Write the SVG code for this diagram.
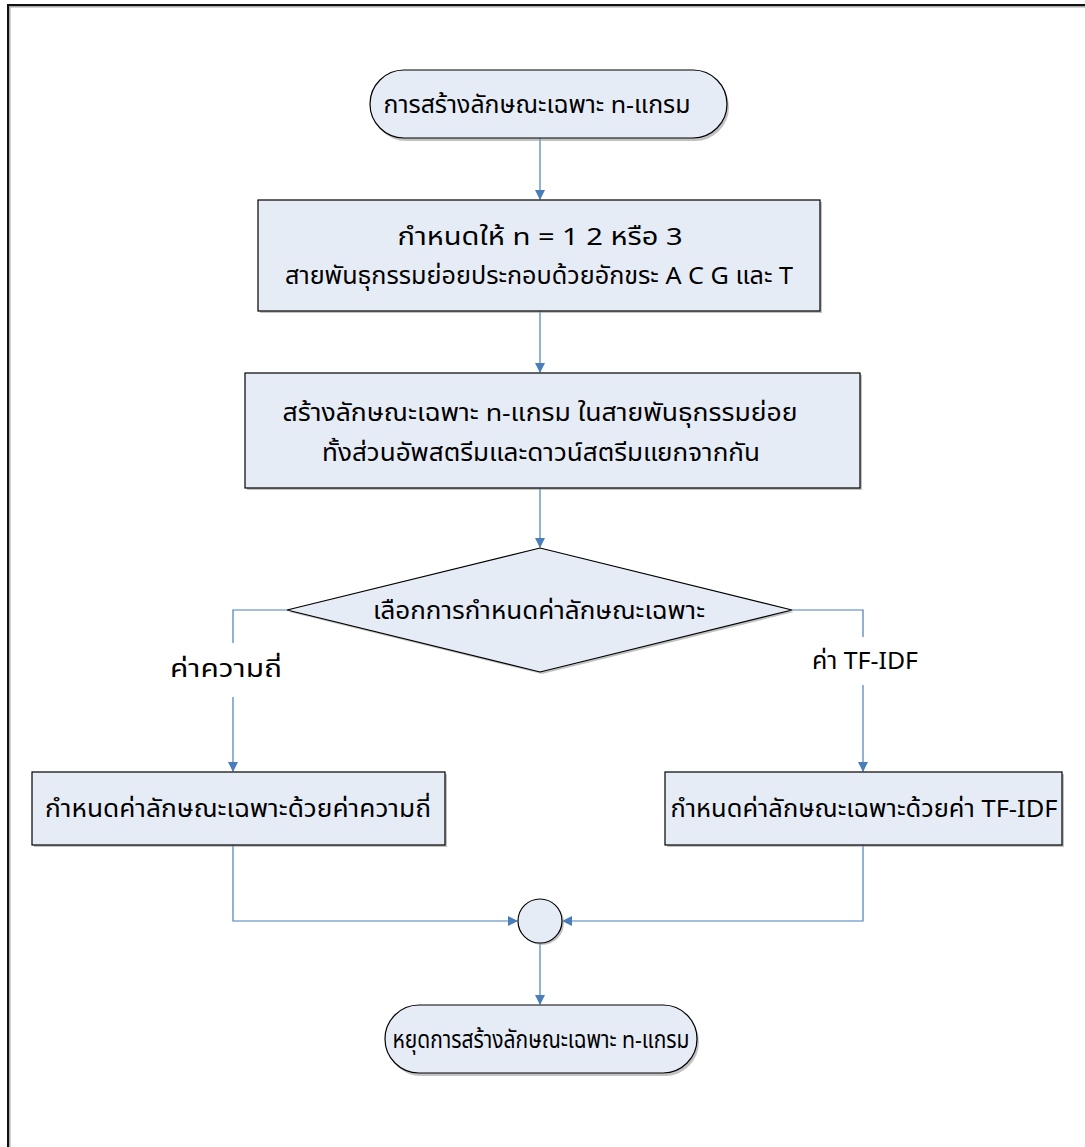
<svg xmlns="http://www.w3.org/2000/svg" width="1085" height="1147" viewBox="0 0 1085 1147">
<defs>
<marker id="arr" markerWidth="10" markerHeight="10" refX="9" refY="5" orient="auto" markerUnits="userSpaceOnUse">
<path d="M0,0 L10,5 L0,10 z" fill="#4a7ebb"/>
</marker>
<style>
.shape{fill:#e6ecf6;stroke:#000;stroke-width:1.2}
.shadow{fill:#9a9a9a;stroke:none;opacity:0.6}
.conn{fill:none;stroke:#4a7ebb;stroke-width:1.2}
.t{font-family:"Noto Sans Thai","Tahoma","DejaVu Sans","Noto Sans",sans-serif;font-size:24px;fill:#000;text-anchor:middle}
</style>
</defs>
<rect x="0" y="0" width="1085" height="1147" fill="#fff"/>
<rect x="9" y="6" width="1090" height="1150" fill="none" stroke="#aaa" stroke-width="3"/>
<rect x="8" y="5" width="1090" height="1150" fill="none" stroke="#111" stroke-width="2"/>

<g id="connectors">
<line class="conn" x1="540" y1="138" x2="540" y2="199" marker-end="url(#arr)"/>
<line class="conn" x1="540" y1="311" x2="540" y2="372" marker-end="url(#arr)"/>
<line class="conn" x1="540" y1="488" x2="540" y2="547" marker-end="url(#arr)"/>
<polyline class="conn" points="287,610 233,610 233,643"/>
<line class="conn" x1="233" y1="697" x2="233" y2="771" marker-end="url(#arr)"/>
<polyline class="conn" points="792,610 863,610 863,637"/>
<line class="conn" x1="863" y1="685" x2="863" y2="771" marker-end="url(#arr)"/>
<polyline class="conn" points="233,845 233,921 517,921" marker-end="url(#arr)"/>
<polyline class="conn" points="863,845 863,921 563,921" marker-end="url(#arr)"/>
<line class="conn" x1="540" y1="943" x2="540" y2="1004" marker-end="url(#arr)"/>
</g>

<g id="start">
<rect class="shadow" x="372" y="73" width="357" height="68" rx="34"/>
<rect class="shape" x="370" y="70" width="357" height="68" rx="34"/>
<text class="t" x="537" y="113" textLength="307" lengthAdjust="spacingAndGlyphs">การสร้างลักษณะเฉพาะ n-แกรม</text>
</g>

<g id="define-n">
<rect class="shadow" x="260" y="202" width="562" height="111"/>
<rect class="shape" x="258" y="200" width="562" height="111"/>
<text class="t" x="540" y="245" textLength="285" lengthAdjust="spacingAndGlyphs">กำหนดให้ n = 1 2 หรือ 3</text>
<text class="t" x="539" y="284" textLength="508" lengthAdjust="spacingAndGlyphs">สายพันธุกรรมย่อยประกอบด้วยอักขระ A C G และ T</text>
</g>

<g id="build-ngram">
<rect class="shadow" x="247" y="375" width="615" height="115"/>
<rect class="shape" x="245" y="373" width="615" height="115"/>
<text class="t" x="540" y="421" textLength="515" lengthAdjust="spacingAndGlyphs">สร้างลักษณะเฉพาะ n-แกรม ในสายพันธุกรรมย่อย</text>
<text class="t" x="541" y="461" textLength="438" lengthAdjust="spacingAndGlyphs">ทั้งส่วนอัพสตรีมและดาวน์สตรีมแยกจากกัน</text>
</g>

<g id="decision">
<polygon class="shadow" points="542,550 794,612 542,674 289,612"/>
<polygon class="shape" points="540,548 792,610 540,672 287,610"/>
<text class="t" x="539" y="619" textLength="332" lengthAdjust="spacingAndGlyphs">เลือกการกำหนดค่าลักษณะเฉพาะ</text>
</g>

<g id="label-freq">
<text class="t" x="226" y="677" textLength="112" lengthAdjust="spacingAndGlyphs">ค่าความถี่</text>
</g>
<g id="label-tfidf">
<text class="t" x="865" y="669" textLength="106" lengthAdjust="spacingAndGlyphs">ค่า TF-IDF</text>
</g>

<g id="freq-box">
<rect class="shadow" x="34" y="774" width="413" height="73"/>
<rect class="shape" x="32" y="772" width="413" height="73"/>
<text class="t" x="238" y="817" textLength="386" lengthAdjust="spacingAndGlyphs">กำหนดค่าลักษณะเฉพาะด้วยค่าความถี่</text>
</g>

<g id="tfidf-box">
<rect class="shadow" x="667" y="774" width="397" height="73"/>
<rect class="shape" x="665" y="772" width="397" height="73"/>
<text class="t" x="864" y="817" textLength="387" lengthAdjust="spacingAndGlyphs">กำหนดค่าลักษณะเฉพาะด้วยค่า TF-IDF</text>
</g>

<g id="merge">
<circle class="shadow" cx="542" cy="923" r="22"/>
<circle class="shape" cx="540" cy="921" r="22"/>
</g>

<g id="end">
<rect class="shadow" x="387" y="1008" width="312" height="68" rx="34"/>
<rect class="shape" x="385" y="1005" width="312" height="68" rx="34"/>
<text class="t" x="541" y="1048" textLength="297" lengthAdjust="spacingAndGlyphs">หยุดการสร้างลักษณะเฉพาะ n-แกรม</text>
</g>
</svg>
